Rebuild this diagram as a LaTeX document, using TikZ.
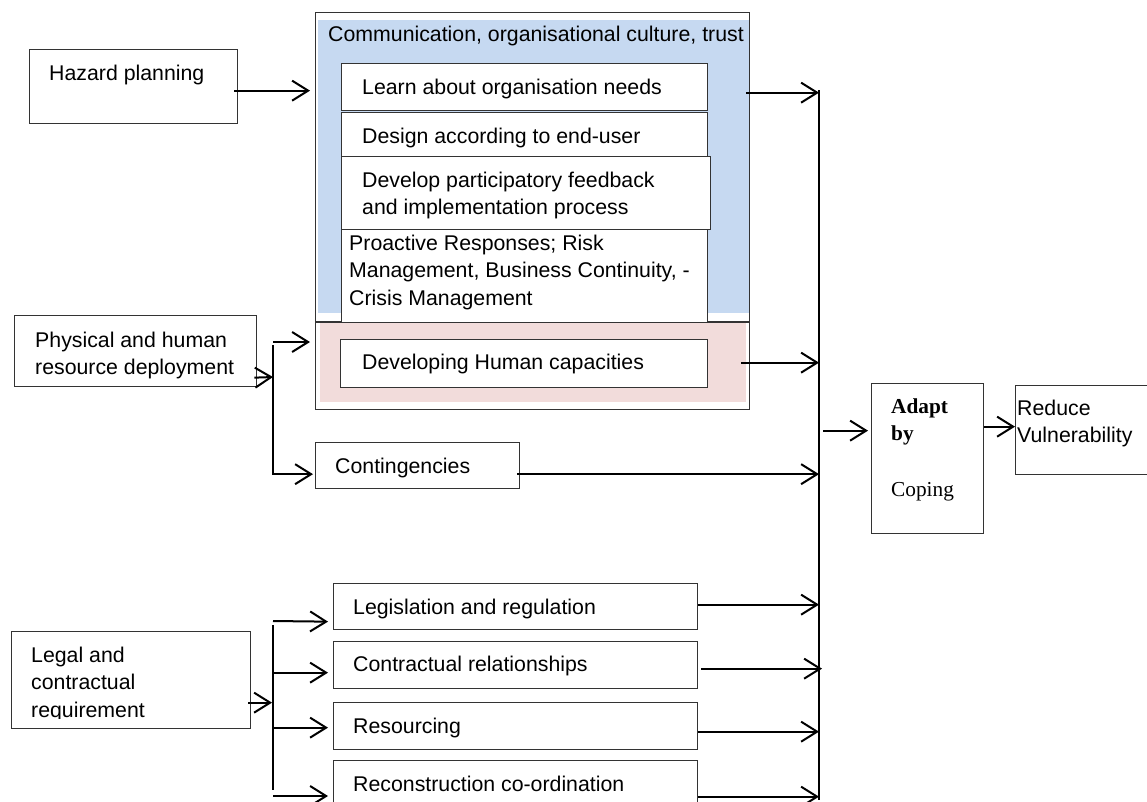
\documentclass[tikz,border=0pt]{standalone}
\usepackage{fontspec}
\setmainfont{Liberation Sans}
\newfontfamily\serifface{Liberation Serif}
\usetikzlibrary{arrows.meta,calc}
\newcommand\fs{\fontsize{21.3}{27.7}\selectfont}
\newcommand\ml[1]{\begin{tabular}[t]{@{}l@{}}#1\end{tabular}}
\definecolor{commblue}{HTML}{C6D9F1}
\definecolor{humanpink}{HTML}{F2DCDB}
\definecolor{edgegray}{HTML}{333333}
\tikzset{
  box/.style={draw=edgegray, line width=1.3pt, fill=white, rectangle, inner sep=0pt, anchor=north west},
  bg/.style={draw=none, rectangle, inner sep=0pt, anchor=north west},
  frame/.style={draw=edgegray, line width=1.3pt},
  txt/.style={anchor=base west, inner sep=0pt, font=\fs},
  arr/.style={line width=2pt, -{Straight Barb[length=16pt,width=20pt]}},
  busline/.style={line width=2.5pt},
  barline/.style={line width=2pt}
}
\begin{document}
\begin{tikzpicture}[x=1pt, y=-1pt]
\useasboundingbox (0,0) rectangle (1147,801);

% left source boxes
\node[box, minimum width=208pt, minimum height=74pt] (hazard) at (29,49) {};
\node[txt] (hazard-t) at (49,80) {Hazard planning};
\node[box, minimum width=242pt, minimum height=71pt] (phys) at (14,315) {};
\node[txt] (phys-t) at (35,347) {\ml{Physical and human\\resource deployment}};
\node[box, minimum width=239pt, minimum height=97pt] (legal) at (11,631) {};
\begin{scope}
\clip (11,631) rectangle (250,718.5);
\node[txt] (legal-t) at (31,662) {\ml{Legal and\\contractual\\requirement}};
\end{scope}

% big framed group
\node[bg, fill=commblue, minimum width=431pt, minimum height=293pt] (blue) at (318,20) {};
\node[bg, fill=humanpink, minimum width=426pt, minimum height=80pt] (pink) at (320,322) {};
\node[bg, draw=edgegray, line width=1.3pt, minimum width=434pt, minimum height=397pt] (outer) at (315,12) {};
\draw[frame] (pink.north -| outer.west) -- (pink.north -| outer.east);
\node[txt] (comm-t) at (328,41) {Communication, organisational culture, trust};

\node[box, minimum width=366pt, minimum height=47pt] (learn) at (341,63) {};
\node[txt] (learn-t) at (362,94) {Learn about organisation needs};
\node[box, minimum width=366pt, minimum height=44pt] (design) at (341,112) {};
\node[txt] (design-t) at (362,143) {Design according to end-user};
\node[box, minimum width=369pt, minimum height=73pt] (develop) at (341,156) {};
\node[txt] (develop-t) at (362,187) {\ml{Develop participatory feedback\\and implementation process}};
\node[box, minimum width=366pt, minimum height=93pt] (proact) at (341,229) {};
\node[txt] (proact-t) at (349,250) {\ml{Proactive Responses; Risk\\Management, Business Continuity, -\\Crisis Management}};
\node[box, minimum width=367pt, minimum height=48pt] (human) at (340,339) {};
\node[txt] (human-t) at (362,369) {Developing Human capacities};

% other middle boxes
\node[box, minimum width=204pt, minimum height=46pt] (cont) at (315,442) {};
\node[txt] (cont-t) at (335,473) {Contingencies};
\node[box, minimum width=364pt, minimum height=46pt] (legis) at (333,583) {};
\node[txt] (legis-t) at (353,614) {Legislation and regulation};
\node[box, minimum width=364pt, minimum height=47pt] (contract) at (333,641) {};
\node[txt] (contract-t) at (353,671) {Contractual relationships};
\node[box, minimum width=364pt, minimum height=47pt] (resour) at (333,702) {};
\node[txt] (resour-t) at (353,733) {Resourcing};
\node[box, minimum width=364pt, minimum height=50pt] (recon) at (333,760) {};
\node[txt] (recon-t) at (353,791) {Reconstruction co-ordination};

% right boxes
\node[box, minimum width=112pt, minimum height=150pt] (adapt) at (871,383) {};
\node[txt] (adapt-t) at (891,413) {\serifface\ml{\textbf{Adapt}\\\textbf{by}\\ \\Coping}};
\node[box, minimum width=140pt, minimum height=89pt] (reduce) at (1015,385) {};
\node[txt] (reduce-t) at (1017,415) {\ml{Reduce\\Vulnerability}};

% left connectors
\draw[arr] ($(hazard.east)+(-4,4)$) -- ($(hazard.east -| outer.west)+(-5,4)$);

\coordinate (ptop) at (273,342);
\coordinate (pj) at (273,377);
\draw[arr] ($(phys.east)+(-3,26.5)$) -- (pj);
\draw[arr] (ptop) -- ($(ptop -| outer.west)+(-5,0)$);
\draw[arr] ($(ptop)+(0,3)$) |- ($(cont.west)+(-2,8.5)$);

\coordinate (ltop) at (273,621);
\coordinate (lbot) at (273,796);
\draw[barline] ($(ltop)+(0,4)$) -- ($(lbot)+(0,-6)$);
\draw[arr] ($(legal.east)+(-3,22.5)$) -- ($(legal.east -| ltop)+(-1,22.5)$);
\draw[arr] (ltop) -- ($(legis.west)+(-5,15)$);
\draw[arr] ($(ltop |- contract.west)+(0,7.5)$) -- ($(contract.west)+(-5,7.5)$);
\draw[arr] ($(ltop |- resour.west)+(0,1.5)$) -- ($(resour.west)+(-5,1.5)$);
\draw[arr] (lbot) -- ($(lbot -| recon.west)+(-5,0)$);

% right bus
\coordinate (bustop) at (819,90);
\coordinate (busbot) at (819,800);
\draw[busline] (bustop) -- (busbot);
\draw[arr] ($(learn.east -| outer.east)+(-4,5.5)$) -- ($(learn.east -| bustop)+(0,5.5)$);
\draw[arr] ($(human.east)+(33,-1)$) -- ($(human.east -| bustop)+(0,-1)$);
\draw[arr] ($(cont.east)+(-3,8.5)$) -- ($(cont.east -| bustop)+(0,8.5)$);
\draw[arr] ($(legis.east)+(0,-2)$) -- ($(legis.east -| bustop)+(0,-2)$);
\draw[arr] ($(contract.east)+(3,3.5)$) -- ($(contract.east -| bustop)+(3,3.5)$);
\draw[arr] ($(resour.east)+(0,5.5)$) -- ($(resour.east -| bustop)+(0,5.5)$);
\draw[arr] ($(recon.east)+(0,11)$) -- ($(recon.east -| bustop)+(0,11)$);
\draw[arr] ($(bustop |- adapt.west)+(4,-28)$) -- ($(adapt.west)+(-3,-28)$);
\draw[arr] ($(adapt.east)+(0,-32)$) -- ($(reduce.west)+(0,-3.5)$);
\end{tikzpicture}
\end{document}
